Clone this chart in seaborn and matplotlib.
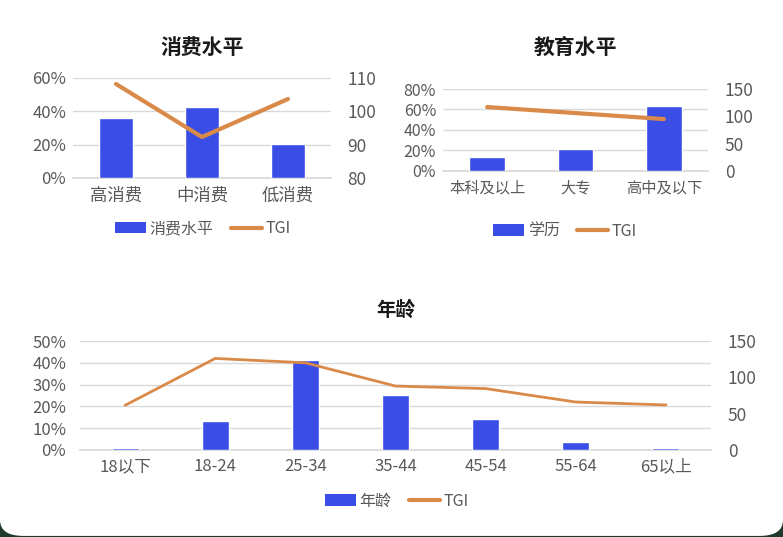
import matplotlib
matplotlib.use("Agg")
import matplotlib.pyplot as plt
import seaborn as sns
import pandas as pd
from matplotlib.patches import Patch, FancyBboxPatch
from matplotlib.lines import Line2D
from matplotlib.ticker import PercentFormatter

# 数据
consume_cats = ["高消费", "中消费", "低消费"]
consume_share = [36, 42.5, 20.5]
consume_tgi = [108.2, 92.3, 103.7]

edu_cats = ["本科及以上", "大专", "高中及以下"]
edu_share = [13.7, 21.5, 63.4]
edu_tgi = [117, 106, 95]

age_cats = ["18以下", "18-24", "25-34", "35-44", "45-54", "55-64", "65以上"]
age_share = [1.0, 13.2, 41.1, 25.2, 14.1, 3.5, 0.7]
age_tgi = [61.5, 126, 120, 88, 84.5, 66, 62]

BLUE = "#3a4ee6"
ORANGE = "#da8a48"
GRID = "#d9d9d9"
TICK = "#595959"

sns.set_theme(style="white")
plt.rcParams["font.family"] = ["Noto Sans CJK SC", "DejaVu Sans"]

fig = plt.figure(figsize=(7.83, 5.37), dpi=100)
fig.patch.set_facecolor("#1f3b2c")
card = FancyBboxPatch((0.0, 0.002), 1.0, 1.1, boxstyle="round,pad=0,rounding_size=0.03",
                      transform=fig.transFigure, facecolor="white", edgecolor="none",
                      zorder=-10)
fig.patches.append(card)


def combo(rect, cats, share, tgi, lims, rlims, lticks, rticks, title, name,
          bar_w, lw, fx, fy, fr, ft, fl, ypad, title_y, leg_xy):
    ax = fig.add_axes(rect)
    ax.set_facecolor("none")
    df = pd.DataFrame({"cat": cats, "share": share, "tgi": tgi})
    sns.barplot(data=df, x="cat", y="share", color=BLUE, width=bar_w, ax=ax,
                saturation=1, zorder=3)
    ax.set_ylim(*lims)
    ax.set_yticks(lticks)
    ax.yaxis.set_major_formatter(PercentFormatter(decimals=0))
    ax.grid(axis="y", color=GRID, linewidth=1, zorder=0)
    ax.set_axisbelow(True)
    for s in ax.spines.values():
        s.set_visible(False)
    ax.spines["bottom"].set_visible(True)
    ax.spines["bottom"].set_color(GRID)
    ax.set_xlabel("")
    ax.set_ylabel("")
    ax.tick_params(axis="x", length=0, labelsize=fx, labelcolor=TICK, pad=6)
    ax.tick_params(axis="y", length=0, labelsize=fy, labelcolor=TICK, pad=ypad)

    ax2 = ax.twinx()
    sns.lineplot(data=df, x="cat", y="tgi", color=ORANGE, linewidth=lw, ax=ax2,
                 sort=False, zorder=4)
    ax.set_xlim(-0.5, len(cats) - 0.5)
    ax2.set_ylim(*rlims)
    ax2.set_yticks(rticks)
    ax2.set_ylabel("")
    for s in ax2.spines.values():
        s.set_visible(False)
    ax2.tick_params(axis="y", length=0, labelsize=fr, labelcolor=TICK, pad=12)
    ax2.grid(False)

    cx = rect[0] + rect[2] / 2
    fig.text(cx, title_y, title, ha="center", va="center", fontsize=ft,
             fontweight="bold", color="#1a1a1a")
    handles = [Patch(facecolor=BLUE, edgecolor="none"),
               Line2D([0], [0], color=ORANGE, linewidth=3)]
    fig.legend(handles, [name, "TGI"], loc="center", bbox_to_anchor=leg_xy,
               ncol=2, frameon=False, fontsize=fl, handlelength=1.9,
               handletextpad=0.25, columnspacing=1.1, labelcolor=TICK)
    return ax, ax2


combo([73 / 783, 1 - 178 / 537, 258 / 783, 100 / 537], consume_cats, consume_share,
      consume_tgi, (0, 60), (80, 110), [0, 20, 40, 60], [80, 90, 100, 110],
      "消费水平", "消费水平", 0.4, 3, 12.5, 12, 12.5, 15, 11.5, 5,
      1 - 47 / 537, (203 / 783, 1 - 229 / 537))

combo([443 / 783, 1 - 171 / 537, 265 / 783, 82 / 537], edu_cats, edu_share,
      edu_tgi, (0, 80), (0, 150), [0, 20, 40, 60, 80], [0, 50, 100, 150],
      "教育水平", "学历", 0.4, 3, 11, 11.5, 12.5, 15, 11.5, 5,
      1 - 47 / 537, (565 / 783, 1 - 231 / 537))

combo([80 / 783, 1 - 450 / 537, 631 / 783, 109 / 537], age_cats, age_share,
      age_tgi, (0, 50), (0, 150), [0, 10, 20, 30, 40, 50], [0, 50, 100, 150],
      "年龄", "年龄", 0.3, 2, 12, 12, 12.5, 14, 11.5, 10,
      1 - 310 / 537, (397 / 783, 1 - 501 / 537))

fig.savefig("out.png", dpi=100, facecolor=fig.get_facecolor())
